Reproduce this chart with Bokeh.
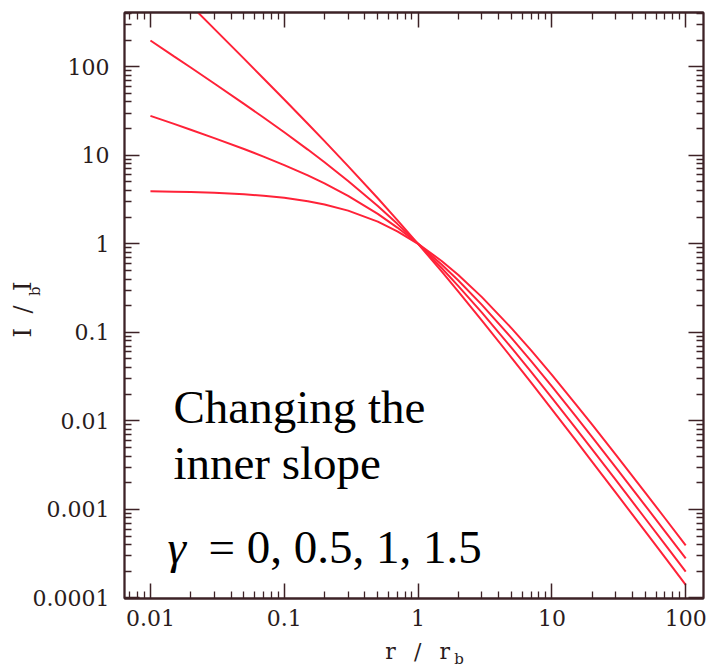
import math
from bokeh.plotting import figure
from bokeh.models import (LogAxis, FixedTicker, CustomJSTickFormatter, Label,
                          Range1d, ColumnDataSource)
from bokeh.embed import file_html
from bokeh.resources import INLINE

# ---------------- data ----------------
r = [0.01, 0.015, 0.02, 0.03, 0.05, 0.07, 0.1, 0.15, 0.2, 0.3, 0.5, 0.7, 1,
     1.5, 2, 3, 5, 7, 10, 15, 20, 30, 50, 70, 100]

I_gamma_0 = [3.92, 3.88, 3.84, 3.77, 3.63, 3.49, 3.31, 3.02, 2.78, 2.37, 1.78,
             1.38, 1.00, 0.64, 0.444, 0.25, 0.111, 0.0625, 0.0331, 0.0156,
             0.00907, 0.00416, 0.00154, 0.000794, 0.000392]
I_gamma_05 = [27.9, 22.6, 19.4, 15.6, 11.76, 9.66, 7.75, 5.92, 4.81, 3.48,
              2.18, 1.525, 1.00, 0.584, 0.385, 0.204, 0.0861, 0.0472, 0.0245,
              0.01141, 0.00657, 0.00299, 0.001098, 0.000565, 0.000279]
I_gamma_1 = [198, 131, 98.0, 64.7, 38.1, 26.7, 18.2, 11.6, 8.33, 5.13, 2.67,
             1.68, 1.00, 0.533, 0.333, 0.167, 0.0667, 0.0357, 0.0182, 0.00833,
             0.00476, 0.00215, 0.000784, 0.000402, 0.000198]
I_gamma_15 = [1407, 764, 495, 268, 123.4, 73.8, 42.6, 22.7, 14.43, 7.55, 3.27,
              1.852, 1.00, 0.487, 0.289, 0.136, 0.0516, 0.0270, 0.01348,
              0.00609, 0.00345, 0.001546, 0.000560, 0.000287, 0.0001407]

x_ticks = [0.01, 0.1, 1, 10, 100]
x_tick_labels = ["0.01", "0.1", "1", "10", "100"]
y_ticks = [0.0001, 0.001, 0.01, 0.1, 1, 10, 100]
y_tick_labels = ["0.0001", "0.001", "0.01", "0.1", "1", "10", "100"]
x_minor = [m * 10.0 ** k for k in range(-3, 3) for m in range(2, 10)]
y_minor = [m * 10.0 ** k for k in range(-5, 3) for m in range(2, 10)]

x_title = "\u2004r\u2002\u2004/\u2002\u2004r"
y_title = "I\u2002\u200a/\u2002\u200aI\u2004"
subscript = "b"
x_sub_pos = [2.02]     # where the subscript of r_b sits on the r axis
y_sub_pos = [0.33]     # where the subscript of I_b sits on the I axis

# ---------------- styling ----------------
LINE_RED = "#ff2238"
AXIS_COL = "#3d2226"
LABEL_COL = "#2a1c1c"
TICK_FONT = "DejaVu Serif"
TEXT_FONT = "Liberation Serif"

p = figure(width=712, height=670, x_axis_type="log", y_axis_type="log",
           x_range=Range1d(0.0064, 135.8), y_range=Range1d(9.85e-5, 410),
           output_backend="svg", toolbar_location=None,
           min_border_left=124, min_border_right=9, min_border_top=12,
           min_border_bottom=68)
p.grid.visible = False
p.outline_line_color = AXIS_COL
p.outline_line_width = 1.8
p.background_fill_color = "white"
p.border_fill_color = "white"

src = ColumnDataSource(dict(r=r, g0=I_gamma_0, g05=I_gamma_05,
                            g1=I_gamma_1, g15=I_gamma_15))
for col in ["g0", "g05", "g1", "g15"]:
    p.line("r", col, source=src, line_color=LINE_RED, line_width=2)


def fmt(tick_vals, tick_labels):
    return CustomJSTickFormatter(args=dict(tvals=tick_vals, tlabels=tick_labels), code="""
        let best = 0, bd = Infinity;
        for (let i = 0; i < tvals.length; i++) {
            const d = Math.abs(Math.log10(tick) - Math.log10(tvals[i]));
            if (d < bd) { bd = d; best = i; }
        }
        return tlabels[best];
    """)


def style_axis(ax, tick_vals, minor, show_labels, formatter=None):
    ax.ticker = FixedTicker(ticks=tick_vals, minor_ticks=minor)
    ax.axis_line_color = AXIS_COL
    ax.axis_line_width = 1.8
    ax.major_tick_line_color = AXIS_COL
    ax.minor_tick_line_color = AXIS_COL
    ax.major_tick_line_width = 1.5
    ax.minor_tick_line_width = 1.3
    ax.major_tick_in = 15
    ax.major_tick_out = 0
    ax.minor_tick_in = 7
    ax.minor_tick_out = 0
    if show_labels:
        ax.formatter = formatter
        ax.major_label_text_font = TICK_FONT
        ax.major_label_text_font_size = "22px"
        ax.major_label_text_color = LABEL_COL
    else:
        ax.formatter = CustomJSTickFormatter(code="return '';")
        ax.major_label_text_font_size = "0px"
        ax.major_label_standoff = 0


def title_style(ax, size):
    ax.axis_label_text_font = TICK_FONT
    ax.axis_label_text_font_size = size
    ax.axis_label_text_font_style = "normal"
    ax.axis_label_text_color = LABEL_COL


def sub_axis(pos, standoff, orientation):
    ax = LogAxis(ticker=FixedTicker(ticks=pos, minor_ticks=[]),
                 formatter=fmt(pos, [subscript]))
    ax.axis_line_color = None
    ax.major_tick_line_color = None
    ax.minor_tick_line_color = None
    ax.major_tick_in = 0
    ax.major_tick_out = 0
    ax.minor_tick_in = 0
    ax.minor_tick_out = 0
    ax.major_label_standoff = standoff
    ax.major_label_orientation = orientation
    ax.major_label_text_font = TICK_FONT
    ax.major_label_text_font_size = "15px"
    ax.major_label_text_color = LABEL_COL
    return ax


xa = p.xaxis[0]
ya = p.yaxis[0]
style_axis(xa, x_ticks, x_minor, True, fmt(x_ticks, x_tick_labels))
xa.major_label_standoff = 11
xa.axis_label = x_title
xa.axis_label_standoff = 10
title_style(xa, "22px")

style_axis(ya, y_ticks, y_minor, True, fmt(y_ticks, y_tick_labels))
ya.major_label_standoff = 15
ya.axis_label = y_title
ya.axis_label_standoff = -7
title_style(ya, "24px")

top = LogAxis()
style_axis(top, x_ticks, x_minor, False)
p.add_layout(top, "above")
right = LogAxis()
style_axis(right, y_ticks, y_minor, False)
p.add_layout(right, "right")

p.add_layout(sub_axis(x_sub_pos, -17, "horizontal"), "below")
p.add_layout(sub_axis(y_sub_pos, -30, math.pi / 2), "left")

# ---------------- annotation text ----------------
p.add_layout(Label(x=0.01485, y=0.01419, text="Changing the",
                   text_align="left", text_baseline="alphabetic",
                   text_font=TEXT_FONT, text_font_size="47px",
                   text_color="black"))
p.add_layout(Label(x=0.01485, y=0.003327, text="inner slope",
                   text_align="left", text_baseline="alphabetic",
                   text_font=TEXT_FONT, text_font_size="47px",
                   text_color="black"))
p.add_layout(Label(x=0.0134, y=0.000379, text="γ", text_align="left",
                   text_baseline="alphabetic", text_font=TEXT_FONT,
                   text_font_style="italic", text_font_size="47px",
                   text_color="black"))
p.add_layout(Label(x=0.0271, y=0.000379, text="= 0, 0.5, 1, 1.5",
                   text_align="left", text_baseline="alphabetic",
                   text_font=TEXT_FONT, text_font_size="47px",
                   text_color="black"))

open("out.html", "w").write(file_html(p, INLINE))
